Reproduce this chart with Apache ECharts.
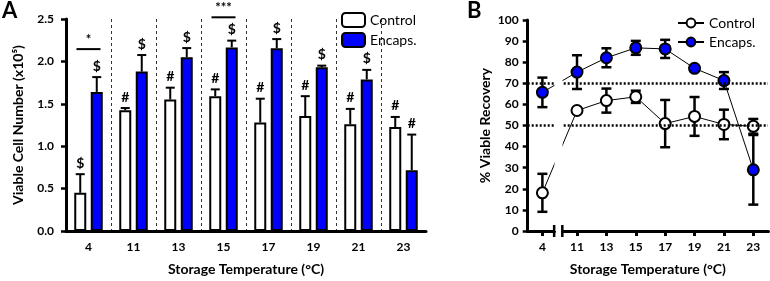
<!DOCTYPE html>
<html><head><meta charset="utf-8">
<script src="https://cdn.jsdelivr.net/npm/echarts@6/dist/echarts.min.js"></script>
<style>html,body{margin:0;padding:0;background:#fff}#c{width:770px;height:281px}</style>
</head><body><div id="c"></div>
<script>
// ---- Panel A data (viable cell number, x10^5) ----
const categories = ['4', '11', '13', '15', '17', '19', '21', '23'];
const cellCtrl = [0.45, 1.425, 1.55, 1.59, 1.28, 1.355, 1.26, 1.225];
const cellCtrlErr = [0.22, 0.025, 0.14, 0.08, 0.28, 0.235, 0.18, 0.12];
const cellEnc = [1.64, 1.88, 2.05, 2.165, 2.155, 1.93, 1.787, 0.717];
const cellEncErr = [0.175, 0.195, 0.107, 0.08, 0.108, 0.02, 0.113, 0.42];
const marksCtrl = ['$', '#', '#', '#', '#', '#', '#', '#'];
const marksEnc = ['$', '$', '$', '$', '$', '$', '$', '#'];
const sigCats = [0, 3];
const sigLevels = [2.145, 2.52];
const sigTexts = ['*', '***'];

// ---- Panel B data (% viable recovery) ----
const temps = [4, 11, 13, 15, 17, 19, 21, 23];
const recCtrl = [18.1, 57.1, 61.8, 63.6, 50.9, 54.3, 50.5, 49.6];
const recCtrlErr = [9.0, 1.0, 5.7, 2.9, 11.2, 9.2, 7.0, 3.5];
const recEnc = [65.7, 75.3, 82.1, 86.8, 86.3, 77.1, 71.3, 29.0];
const recEncErr = [7.0, 8.0, 4.5, 3.3, 4.3, 0.5, 4.0, 16.5];
const refLevels = [50, 70];
const axisBreak = [4.8, 10];

const FONT = 'Lato';
const BLUE = '#0000ff';
const chart = echarts.init(document.getElementById('c'), null, {renderer: 'canvas'});

function errA(vals, errs, marks, side) {
  return {
    type: 'custom', xAxisIndex: 0, yAxisIndex: 0, z: 5, silent: true,
    data: vals.map((v, i) => [i, v, errs[i]]),
    renderItem(params, api) {
      const i = api.value(0), v = api.value(1), e = api.value(2);
      const b = api.coord([i, v]), t = api.coord([i, v + e]);
      const x = b[0] + side * 8.25;
      return {type: 'group', children: [
        {type: 'line', shape: {x1: x, y1: b[1], x2: x, y2: t[1]}, style: {stroke: '#000', lineWidth: 2}},
        {type: 'line', shape: {x1: x - 4.5, y1: t[1], x2: x + 4.5, y2: t[1]}, style: {stroke: '#000', lineWidth: 2}},
        {type: 'text', x: x, y: t[1] - 4, style: {text: marks[params.dataIndex], fill: '#000', font: 'bold 14px ' + FONT, textAlign: 'center', textVerticalAlign: 'bottom'}}
      ]};
    }
  };
}

function errB(vals, errs) {
  return {
    type: 'custom', xAxisIndex: 2, yAxisIndex: 1, z: 1, silent: true,
    data: temps.map((t, i) => [t, vals[i], errs[i]]),
    renderItem(params, api) {
      const x = api.value(0), v = api.value(1), e = api.value(2);
      const a = api.coord([x, v + e]), b = api.coord([x, v - e]);
      return {type: 'group', children: [
        {type: 'line', shape: {x1: a[0], y1: a[1], x2: b[0], y2: b[1]}, style: {stroke: '#000', lineWidth: 2.5}},
        {type: 'line', shape: {x1: a[0] - 5, y1: a[1], x2: a[0] + 5, y2: a[1]}, style: {stroke: '#000', lineWidth: 2.5}},
        {type: 'line', shape: {x1: b[0] - 5, y1: b[1], x2: b[0] + 5, y2: b[1]}, style: {stroke: '#000', lineWidth: 2.5}}
      ]};
    }
  };
}

const axisLbl = {color: '#000', fontFamily: FONT, fontWeight: 'bold', fontSize: 12};
const nameStyle = {color: '#000', fontFamily: FONT, fontWeight: 'bold', fontSize: 14};

chart.setOption({
  animation: false,
  title: [
    {text: 'A', left: 2, top: 0, padding: 0, textStyle: {fontFamily: FONT, fontWeight: 'bold', fontSize: 22, color: '#000'}},
    {text: 'B', left: 467, top: 0, padding: 0, textStyle: {fontFamily: FONT, fontWeight: 'bold', fontSize: 22, color: '#000'}}
  ],
  legend: [
    {data: ['Control', 'Encaps.'], orient: 'vertical', left: 341, top: 12, padding: 0, itemWidth: 23, itemHeight: 14, itemGap: 4,
     textStyle: {fontFamily: FONT, fontSize: 14, color: '#000'}},
    {data: ['Control ', 'Encaps. '], orient: 'vertical', left: 677, top: 16, padding: 0, itemWidth: 26, itemHeight: 11, itemGap: 5,
     textStyle: {fontFamily: FONT, fontSize: 14, color: '#000'}}
  ],
  grid: [
    {left: 66, top: 19, width: 360, bottom: 47.3},
    {left: 527.7, top: 20, right: 2, bottom: 47.3}
  ],
  xAxis: [
    {type: 'category', gridIndex: 0, data: categories,
     axisLine: {lineStyle: {color: '#000', width: 3}}, axisTick: {show: false},
     axisLabel: Object.assign({margin: 10}, axisLbl),
     name: 'Storage Temperature (°C)', nameLocation: 'middle', nameGap: 31, nameTextStyle: nameStyle},
    {type: 'value', gridIndex: 0, min: 0, max: 8, interval: 1, show: true,
     axisLine: {show: false}, axisTick: {show: false}, axisLabel: {show: false},
     splitLine: {show: true, showMinLine: false, showMaxLine: false, lineStyle: {color: '#333', width: 1, type: [3, 3]}}},
    {type: 'value', gridIndex: 1, min: 3, max: 24,
     breaks: [{start: axisBreak[0], end: axisBreak[1], gap: '3.4%'}],
     breakArea: {show: true, zigzagAmplitude: 0, zigzagZ: 200, expandOnClick: false,
       itemStyle: {color: '#fff', borderColor: '#fff', borderWidth: 0, opacity: 1}},
     axisLine: {lineStyle: {color: '#000', width: 3}},
     axisTick: {show: true, length: 5, lineStyle: {width: 3, color: '#000'}, customValues: temps},
     axisLabel: Object.assign({margin: 10, customValues: temps}, axisLbl),
     splitLine: {show: false},
     name: 'Storage Temperature (°C)', nameLocation: 'middle', nameGap: 31, nameTextStyle: nameStyle}
  ],
  yAxis: [
    {type: 'value', gridIndex: 0, min: 0, max: 2.5, interval: 0.5, offset: 4,
     axisLine: {show: true, lineStyle: {color: '#000', width: 3}},
     axisTick: {show: true, length: 5, lineStyle: {width: 2.5, color: '#000'}},
     axisLabel: Object.assign({margin: 8, formatter: v => v.toFixed(1)}, axisLbl),
     splitLine: {show: false},
     name: 'Viable Cell Number (x10⁵)', nameLocation: 'middle', nameGap: 37, nameTextStyle: nameStyle},
    {type: 'value', gridIndex: 1, min: 0, max: 100, interval: 10,
     axisLine: {show: true, lineStyle: {color: '#000', width: 3}},
     axisTick: {show: true, length: 5, lineStyle: {width: 2.5, color: '#000'}},
     axisLabel: Object.assign({margin: 9}, axisLbl),
     splitLine: {show: false},
     name: '% Viable Recovery', nameLocation: 'middle', nameGap: 35, nameTextStyle: nameStyle}
  ],
  series: [
    {name: 'Control', type: 'bar', xAxisIndex: 0, yAxisIndex: 0, data: cellCtrl, barWidth: 12, barGap: '37.5%',
     itemStyle: {color: '#fff', borderColor: '#000', borderWidth: 2}},
    {name: 'Encaps.', type: 'bar', xAxisIndex: 0, yAxisIndex: 0, data: cellEnc, barWidth: 12, barGap: '37.5%',
     itemStyle: {color: BLUE, borderColor: '#000', borderWidth: 2}},
    errA(cellCtrl, cellCtrlErr, marksCtrl, -1),
    errA(cellEnc, cellEncErr, marksEnc, 1),
    {type: 'custom', xAxisIndex: 0, yAxisIndex: 0, z: 5, silent: true, clip: false,
     data: sigCats.map((c, i) => [c, sigLevels[i]]),
     renderItem(params, api) {
       const p = api.coord([api.value(0), api.value(1)]);
       return {type: 'group', children: [
         {type: 'line', shape: {x1: p[0] - 12, y1: p[1], x2: p[0] + 12, y2: p[1]}, style: {stroke: '#000', lineWidth: 2}},
         {type: 'text', x: p[0], y: p[1] - 3, style: {text: sigTexts[params.dataIndex], fill: '#000', font: 'bold 13px ' + FONT, textAlign: 'center', textVerticalAlign: 'bottom'}}
       ]};
     }},
    {type: 'custom', xAxisIndex: 2, yAxisIndex: 1, z: 250, zlevel: 0, silent: true, clip: false,
     data: axisBreak.map(v => [v, 0]),
     renderItem(params, api) {
       const p = api.coord([api.value(0), api.value(1)]);
       return {type: 'line', shape: {x1: p[0], y1: p[1] - 6, x2: p[0], y2: p[1] + 6}, style: {stroke: '#000', lineWidth: 2.5}};
     }},
    {name: 'Control ', type: 'line', xAxisIndex: 2, yAxisIndex: 1, z: 3,
     data: temps.map((t, i) => [t, recCtrl[i]]), symbol: 'circle', symbolSize: 11,
     itemStyle: {color: '#fff', borderColor: '#000', borderWidth: 2},
     lineStyle: {color: '#000', width: 1},
     markLine: {silent: true, symbol: 'none', label: {show: false},
       lineStyle: {color: '#000', width: 2.5, type: [2, 2]},
       data: refLevels.map(v => ({yAxis: v}))}},
    {name: 'Encaps. ', type: 'line', xAxisIndex: 2, yAxisIndex: 1, z: 3,
     data: temps.map((t, i) => [t, recEnc[i]]), symbol: 'circle', symbolSize: 11,
     itemStyle: {color: BLUE, borderColor: '#000', borderWidth: 2},
     lineStyle: {color: '#000', width: 1}},
    errB(recCtrl, recCtrlErr),
    errB(recEnc, recEncErr)
  ]
});
</script></body></html>
